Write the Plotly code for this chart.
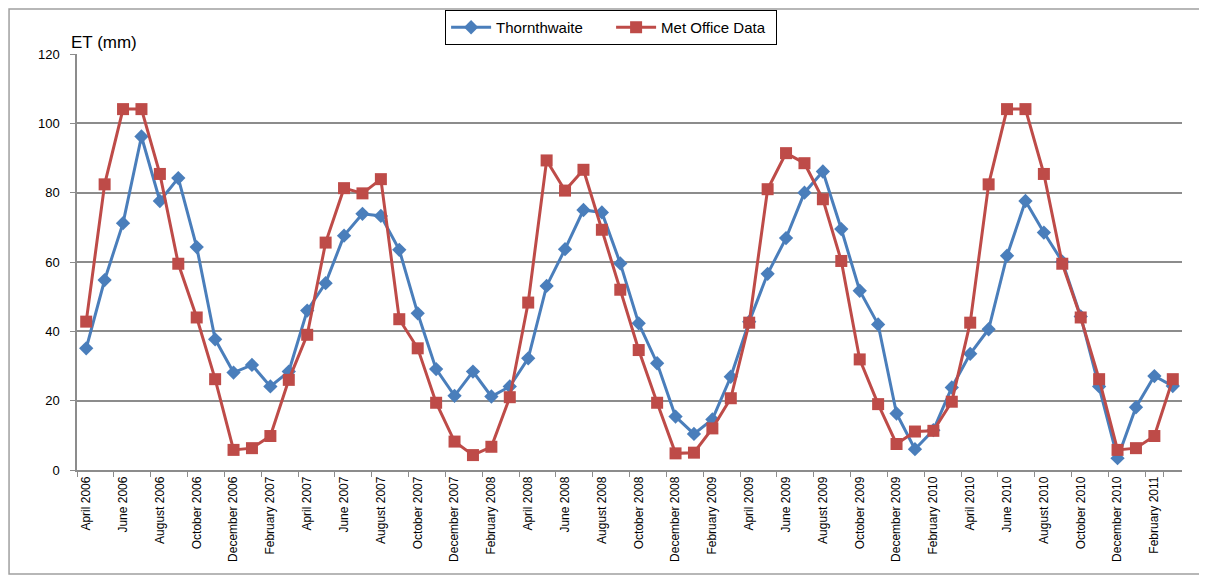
import plotly.graph_objects as go

months = [
    "April 2006", "May 2006", "June 2006", "July 2006", "August 2006", "September 2006",
    "October 2006", "November 2006", "December 2006", "January 2007", "February 2007", "March 2007",
    "April 2007", "May 2007", "June 2007", "July 2007", "August 2007", "September 2007",
    "October 2007", "November 2007", "December 2007", "January 2008", "February 2008", "March 2008",
    "April 2008", "May 2008", "June 2008", "July 2008", "August 2008", "September 2008",
    "October 2008", "November 2008", "December 2008", "January 2009", "February 2009", "March 2009",
    "April 2009", "May 2009", "June 2009", "July 2009", "August 2009", "September 2009",
    "October 2009", "November 2009", "December 2009", "January 2010", "February 2010", "March 2010",
    "April 2010", "May 2010", "June 2010", "July 2010", "August 2010", "September 2010",
    "October 2010", "November 2010", "December 2010", "January 2011", "February 2011", "March 2011",
]

thornthwaite = [
    35.1, 54.8, 71.2, 96.2, 77.6, 84.2, 64.3, 37.7, 28.1, 30.3, 24.1, 28.4,
    46.0, 53.9, 67.6, 73.9, 73.3, 63.5, 45.2, 29.1, 21.4, 28.4, 21.2, 24.1,
    32.2, 53.1, 63.7, 75.0, 74.3, 59.6, 42.3, 30.8, 15.4, 10.4, 14.6, 26.9,
    42.8, 56.6, 66.9, 80.0, 86.1, 69.5, 51.7, 42.0, 16.3, 6.0, 11.5, 23.8,
    33.5, 40.6, 61.8, 77.6, 68.5, 60.1, 44.3, 24.1, 3.4, 18.1, 27.1, 24.2,
]

met_office = [
    42.8, 82.4, 104.1, 104.1, 85.4, 59.5, 44.0, 26.2, 5.8, 6.3, 9.8, 26.0,
    39.0, 65.6, 81.3, 79.8, 83.9, 43.5, 35.1, 19.4, 8.2, 4.3, 6.7, 21.0,
    48.3, 89.3, 80.6, 86.6, 69.3, 52.0, 34.6, 19.4, 4.8, 5.0, 12.0, 20.7,
    42.5, 81.0, 91.4, 88.5, 78.1, 60.3, 31.9, 19.0, 7.5, 11.1, 11.3, 19.7,
    42.5, 82.4, 104.1, 104.1, 85.4, 59.5, 44.0, 26.2, 5.8, 6.3, 9.8, 26.2,
]

tick_labels = months[::2]
y_ticks = [0, 20, 40, 60, 80, 100, 120]

BLUE = "#4A7EBB"
RED = "#BE4B48"
GRID = "#8C8C8C"
FONT = "Liberation Sans, Arial, sans-serif"

fig = go.Figure()
fig.add_trace(go.Scatter(
    x=months, y=thornthwaite, name="Thornthwaite", mode="lines+markers",
    line=dict(color=BLUE, width=3),
    marker=dict(symbol="diamond", size=11, color=BLUE),
))
fig.add_trace(go.Scatter(
    x=months, y=met_office, name="Met Office Data", mode="lines+markers",
    line=dict(color=RED, width=3),
    marker=dict(symbol="square", size=12, color=RED),
))

fig.update_layout(
    width=1199, height=569,
    margin=dict(l=69, r=25, t=46, b=107),
    paper_bgcolor="white", plot_bgcolor="white",
    font=dict(family=FONT, size=12, color="#000000"),
    showlegend=True,
    legend=dict(
        orientation="h", xref="container", yref="container",
        x=0.503, xanchor="center", y=0.9965, yanchor="top",
        bordercolor="#000000", borderwidth=1, bgcolor="white",
        font=dict(family=FONT, size=15, color="#000000"),
        entrywidth=110, itemwidth=40,
    ),
    xaxis=dict(
        type="category", categoryorder="array", categoryarray=months,
        tickmode="array", tickvals=tick_labels, ticktext=tick_labels,
        tickson="boundaries", ticks="outside", ticklen=5, tickcolor=GRID,
        tickangle=-90, tickfont=dict(family=FONT, size=12, color="#000000"),
        showgrid=False, showline=True, linecolor=GRID, linewidth=1.5,
        range=[-0.5, 59.5], zeroline=False, automargin=False,
    ),
    yaxis=dict(
        range=[0, 120], tickvals=y_ticks, ticks="outside", ticklen=5,
        tickcolor=GRID, showgrid=True, gridcolor=GRID, gridwidth=1.5,
        showline=True, linecolor=GRID, linewidth=1.5, zeroline=False,
        tickfont=dict(family=FONT, size=13, color="#000000"),
        ticklabelstandoff=8, automargin=False,
    ),
    annotations=[dict(
        text="ET (mm)", xref="x", yref="y", x=-0.5, y=120,
        xanchor="left", yanchor="bottom", xshift=-8, showarrow=False,
        font=dict(family=FONT, size=17, color="#000000"),
    )],
    shapes=[dict(
        type="rect", xref="paper", yref="paper",
        x0=-0.0615, x1=1.03, y0=-0.25, y1=1.108,
        line=dict(color="#A0A0A0", width=1.5), fillcolor="rgba(0,0,0,0)",
        layer="below",
    )],
)

fig.write_html("out.html")
